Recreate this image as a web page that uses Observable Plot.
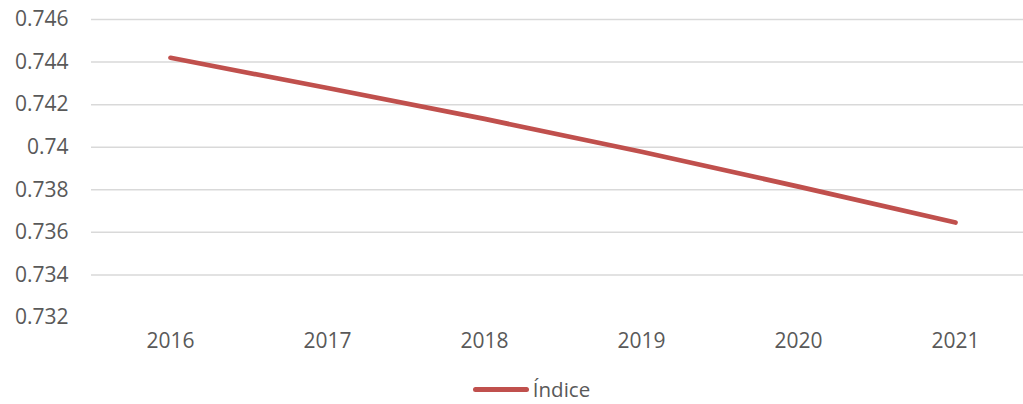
<!DOCTYPE html>
<html>
<head>
<meta charset="utf-8">
<script src="https://cdn.jsdelivr.net/npm/d3@7"></script>
<script src="https://cdn.jsdelivr.net/npm/@observablehq/plot@0.6"></script>
<style>
  html, body { margin: 0; padding: 0; background: #fff; }
  #chart svg { display: block; }
  #legend { height: 30px; padding-top: 13px; display: flex; justify-content: center; align-items: center; font-family: "Open Sans", sans-serif; font-size: 20.5px; color: #595959; }
  #legend .sw { width: 56px; height: 5px; border-radius: 3px; background: #C0504D; margin-right: 4px; margin-left: 40px; }
</style>
</head>
<body>
<div id="chart"></div>
<div id="legend"><span class="sw"></span><span>Índice</span></div>
<script>
const years = ["2016", "2017", "2018", "2019", "2020", "2021"];
const indice = [0.7442, 0.74278, 0.74133, 0.73979, 0.73815, 0.73646];
const yTicks = [0.732, 0.734, 0.736, 0.738, 0.74, 0.742, 0.744, 0.746];
const seriesName = "Índice";

const data = years.map((y, i) => ({year: y, value: indice[i], series: seriesName}));

const chart = Plot.plot({
  width: 1023,
  height: 361,
  marginTop: 19,
  marginBottom: 44,
  marginLeft: 91,
  marginRight: 0,
  style: {fontFamily: "Open Sans, sans-serif", fontSize: "21px", color: "#595959", background: "#fff"},
  x: {type: "point", domain: years, range: [169, 955], padding: 0, label: null},
  y: {domain: [0.732, 0.746], label: null},
  marks: [
    Plot.ruleY(yTicks.filter(t => t > 0.732), {stroke: "#d9d9d9", strokeWidth: 1.5}),
    Plot.axisY({ticks: yTicks, tickSize: 0, tickPadding: 23, tickFormat: d => String(+d.toFixed(3)), label: null}),
    Plot.axisX({tickSize: 0, tickPadding: 16, label: null}),
    Plot.line(data, {x: "year", y: "value", stroke: "#C0504D", strokeWidth: 4.7, strokeLinecap: "round", strokeLinejoin: "round"})
  ]
});
document.getElementById("chart").appendChild(chart);
</script>
</body>
</html>
